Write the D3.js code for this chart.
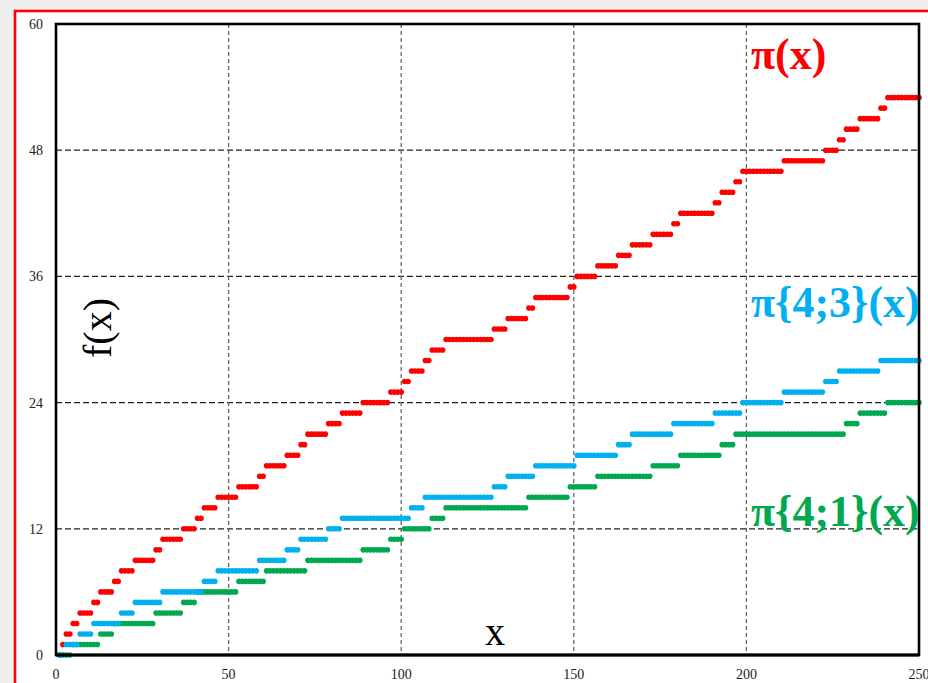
<!DOCTYPE html>
<html>
<head>
<meta charset="utf-8">
<script src="https://cdn.jsdelivr.net/npm/d3@7"></script>
<style>
  html, body { margin: 0; padding: 0; background: #efefef; }
  svg { display: block; }
</style>
</head>
<body>
<div id="chart"></div>
<script>
// x positions where each counting function steps up by one
const piJumpX = [2, 3, 5, 7, 11, 13, 17, 19, 23, 29, 31, 37, 41, 43, 47, 53, 59, 61, 67, 71,
  73, 79, 83, 89, 97, 101, 103, 107, 109, 113, 127, 131, 137, 139, 149, 151, 157, 163, 167, 173,
  179, 181, 191, 193, 197, 199, 211, 223, 227, 229, 233, 239, 241]
const pi43JumpX = [3, 7, 11, 19, 23, 31, 43, 47, 59, 67, 71, 79, 83, 103, 107, 127, 131, 139,
  151, 163, 167, 179, 191, 199, 211, 223, 227, 239]
const pi41JumpX = [5, 13, 17, 29, 37, 41, 53, 61, 73, 89, 97, 101, 109, 113, 137, 149, 157, 173,
  181, 193, 197, 229, 233, 241]

const xTicks = [0, 50, 100, 150, 200, 250]
const yTicks = [0, 12, 24, 36, 48, 60]
const xDomain = [0, 250]
const yDomain = [0, 60]

const series = [
  { name: "π(x)", jumps: piJumpX, color: "#ff0000", labelY: 69 },
  { name: "π{4;1}(x)", jumps: pi41JumpX, color: "#00a84f", labelY: 526 },
  { name: "π{4;3}(x)", jumps: pi43JumpX, color: "#00b0f0", labelY: 317 }
]

const width = 928, height = 683
const margin = { left: 56, right: 9, top: 24, bottom: 28 }

const svg = d3.select("#chart").append("svg")
  .attr("width", width)
  .attr("height", height)

// red frame with white inside
svg.append("rect")
  .attr("x", 15).attr("y", 11)
  .attr("width", 960).attr("height", 700)
  .attr("fill", "white")
  .attr("stroke", "#ff0000")
  .attr("stroke-width", 2.6)

const x = d3.scaleLinear().domain(xDomain).range([margin.left, width - margin.right])
const y = d3.scaleLinear().domain(yDomain).range([height - margin.bottom, margin.top])

// grid
svg.append("g")
  .selectAll("line")
  .data(yTicks.filter(d => d > 0 && d < 60))
  .join("line")
  .attr("x1", x(0)).attr("x2", x(250))
  .attr("y1", d => y(d)).attr("y2", d => y(d))
  .attr("stroke", "#222")
  .attr("stroke-width", 1.2)
  .attr("stroke-dasharray", "6,3")

svg.append("g")
  .selectAll("line")
  .data(xTicks.filter(d => d > 0 && d < 250))
  .join("line")
  .attr("x1", d => x(d)).attr("x2", d => x(d))
  .attr("y1", y(60)).attr("y2", y(0))
  .attr("stroke", "#666")
  .attr("stroke-width", 1.3)
  .attr("stroke-dasharray", "4,3")

// dots, one per integer x
const xs = d3.range(1, 251)
series.forEach(s => {
  const pts = xs.map(v => ({ x: v, y: d3.bisectRight(s.jumps, v) }))
  svg.append("g")
    .selectAll("circle")
    .data(pts)
    .join("circle")
    .attr("cx", d => x(d.x))
    .attr("cy", d => y(d.y))
    .attr("r", 2.8)
    .attr("fill", s.color)
})

// plot frame
svg.append("rect")
  .attr("x", x(0)).attr("y", y(60))
  .attr("width", x(250) - x(0)).attr("height", y(0) - y(60))
  .attr("fill", "none")
  .attr("stroke", "#000")
  .attr("stroke-width", 2.6)

svg.append("line")
  .attr("x1", x(0)).attr("x2", x(250))
  .attr("y1", y(0)).attr("y2", y(0))
  .attr("stroke", "#000")
  .attr("stroke-width", 3.2)

// tick labels
const font = "'Liberation Serif', 'Times New Roman', serif"
svg.append("g")
  .selectAll("text")
  .data(yTicks)
  .join("text")
  .attr("x", 43)
  .attr("y", d => y(d))
  .attr("dy", "0.35em")
  .attr("text-anchor", "end")
  .attr("font-family", font)
  .attr("font-size", 14)
  .attr("fill", "#222")
  .text(d => d)

svg.append("g")
  .selectAll("text")
  .data(xTicks)
  .join("text")
  .attr("x", d => x(d))
  .attr("y", 679)
  .attr("text-anchor", "middle")
  .attr("font-family", font)
  .attr("font-size", 14)
  .attr("fill", "#222")
  .text(d => d)

// axis titles
svg.append("text")
  .attr("x", 495).attr("y", 645)
  .attr("text-anchor", "middle")
  .attr("font-family", font)
  .attr("font-size", 40)
  .text("x")

svg.append("text")
  .attr("transform", "translate(111,328) rotate(-90)")
  .attr("text-anchor", "middle")
  .attr("font-family", font)
  .attr("font-size", 40)
  .text("f(x)")

// series labels
svg.append("g")
  .selectAll("text")
  .data(series)
  .join("text")
  .attr("x", 751)
  .attr("y", d => d.labelY)
  .attr("font-family", font)
  .attr("font-weight", "bold")
  .attr("font-size", 44)
  .attr("fill", d => d.color)
  .text(d => d.name)
</script>
</body>
</html>
